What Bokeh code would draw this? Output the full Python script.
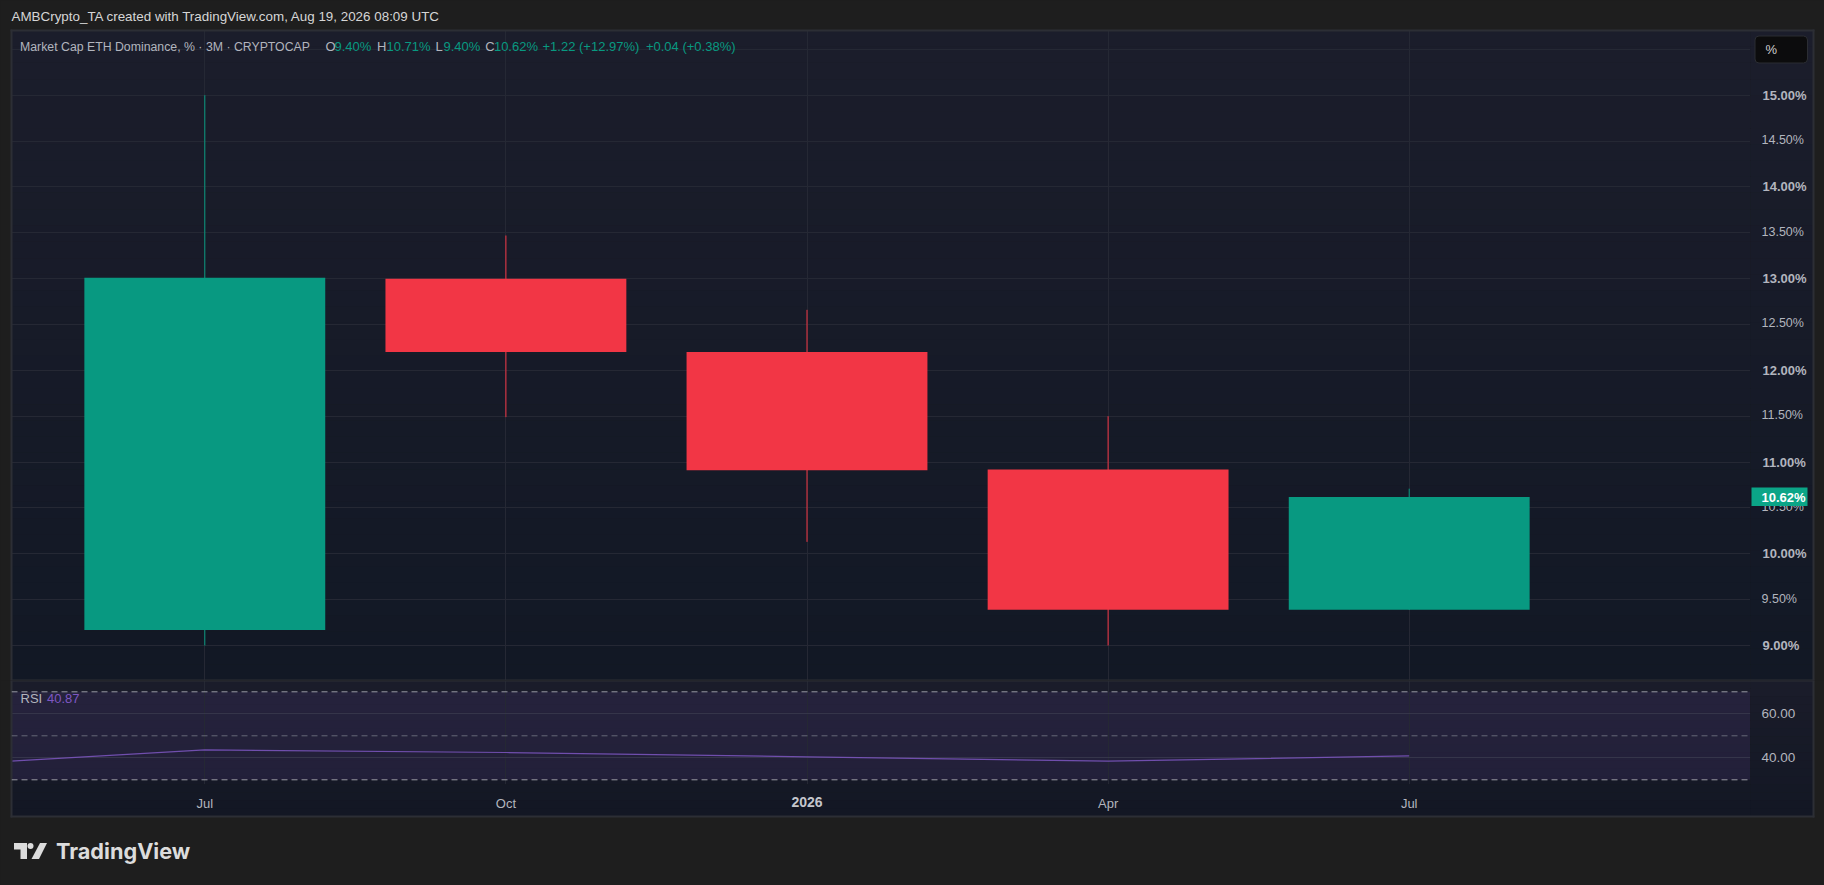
from bokeh.plotting import figure
from bokeh.layouts import column
from bokeh.core.properties import value
from bokeh.models import Range1d, LinearAxis, FixedTicker, Grid, Span, PrintfTickFormatter, ColumnDataSource
from bokeh.embed import file_html
from bokeh.resources import INLINE

# ---- data ----
OPENS = [9.17, 13.00, 12.20, 10.92, 9.39]
HIGHS = [15.00, 13.47, 12.66, 11.50, 10.71]
LOWS = [9.00, 11.49, 10.13, 9.00, 9.39]
CLOSES = [13.01, 12.20, 10.91, 9.39, 10.62]
BAR_X = [0, 1, 2, 3, 4]
X_TICKS = [0, 1, 3, 4]
X_LABELS = {0: "Jul", 1: "Oct", 3: "Apr", 4: "Jul"}
BOLD_X_TICK = 2
BOLD_X_LABEL = "2026"
PRICE_MAJOR = [9, 10, 11, 12, 13, 14, 15]
PRICE_MINOR = [9.5, 10.5, 11.5, 12.5, 13.5, 14.5]
PRICE_GRID = [9, 9.5, 10, 10.5, 11, 11.5, 12, 12.5, 13, 13.5, 14, 14.5, 15, 15.5]
RSI_X = [-1, 0, 1, 2, 3, 4]
RSI_Y = [35.7, 43.6, 42.4, 40.45, 38.45, 40.87]
RSI_TICKS = [40, 60]
RSI_LEVELS = [70, 50, 30]
LAST_PRICE = 10.62

# ---- style ----
PAGE = "#1e1e1e"
GREEN = "#089981"
RED = "#f23645"
GRAY = "#b2b5be"
PURPLE = "#7e57c2"
FRAME = "#2c2e35"
GRID = "#252834"
SANS = "Liberation Sans"
WIDTH, HEIGHT = 1824, 885

# page pixel geometry of the chart
PANE_L, PANE_R, PLOT_R = 11, 1813, 1750
TOP, SEP, TIME_TOP, BOT = 30, 680, 784, 816
Y15, Y9 = 94.7, 645.0
PX_PER_PCT = (Y9 - Y15) / 6
SPACING = 301.1
X0 = 204.3
x_range = Range1d((PANE_L - X0) / SPACING, (PLOT_R - X0) / SPACING)
price_range = Range1d(9 - (SEP - Y9) / PX_PER_PCT, 9 + (Y9 - TOP) / PX_PER_PCT)
rsi_range = Range1d(30 - (TIME_TOP - 779.3) / 2.2, 70 + (691.3 - SEP) / 2.2)


def fx(px):
    return (px - X0) / SPACING


def fy1(py):
    return 9 + (Y9 - py) / PX_PER_PCT


def fy2(py):
    return 30 + (779.3 - py) / 2.2


def mix(a, b, t):
    return "#" + "".join(f"{round(a[i] + (b[i] - a[i]) * t):02x}" for i in range(3))


def gradient(p, fy, l, r, y0, y1, c0, c1, n, level, n0=0, n1=None):
    L, R, T, B, C = [], [], [], [], []
    for i in range(n0, n if n1 is None else n1):
        T.append(fy(round(y0 + (y1 - y0) * i / n)))
        B.append(fy(round(y0 + (y1 - y0) * (i + 1) / n)))
        L.append(fx(l))
        R.append(fx(r))
        C.append(mix(c0, c1, i / max(n - 1, 1)))
    p.quad(left=L, right=R, top=T, bottom=B, fill_color=C, line_color=C, line_width=0.5, level=level)


def box(p, fy, l, r, t, b, color, level="guide", radius=0, line=None):
    p.quad(left=[fx(l)], right=[fx(r)], top=[fy(t)], bottom=[fy(b)], fill_color=color,
           line_color=line or color, line_width=1 if line else 0, level=level, border_radius=radius)


def txt(p, fy, x, y, s, color=GRAY, size=13, font=SANS, style="normal", align="left", level="guide"):
    p.text(x=[fx(x)], y=[fy(y)], text=[s], text_color=color, text_font_size=f"{size}px", text_font=value(font),
           text_font_style=style, text_align=align, text_baseline="middle", level=level)


def base(h, yr, top, bottom):
    p = figure(width=WIDTH, height=h, x_range=x_range, y_range=yr, x_axis_location=None, y_axis_location=None,
               tools="", toolbar_location=None, output_backend="svg", min_border_left=PANE_L,
               min_border_right=WIDTH - PLOT_R, min_border_top=top, min_border_bottom=bottom,
               background_fill_color=PAGE, border_fill_color=PAGE, outline_line_color=None)
    p.grid.visible = False
    p.add_layout(Grid(dimension=0, ticker=FixedTicker(ticks=BAR_X), grid_line_color=GRID, level="underlay"))
    return p


# ---- price pane ----
p1 = base(SEP, price_range, TOP, 0)
C0, C1 = (27, 29, 43), (18, 24, 37)
gradient(p1, fy1, PANE_L, PLOT_R, TOP, SEP, C0, C1, 40, "image")
gradient(p1, fy1, PLOT_R, PANE_R, TOP, SEP, C0, C1, 40, "guide")
p1.add_layout(Grid(dimension=1, ticker=FixedTicker(ticks=PRICE_GRID), grid_line_color=GRID, level="underlay"))

colors = [GREEN if c >= o else RED for o, c in zip(OPENS, CLOSES)]
src = ColumnDataSource(dict(x=BAR_X, o=OPENS, h=HIGHS, l=LOWS, c=CLOSES, color=colors))
p1.segment("x", "h", "x", "l", source=src, line_color="color", line_width=1)
p1.vbar(x="x", width=0.8, top="o", bottom="c", source=src, fill_color="color", line_color=None)

yax = LinearAxis(ticker=FixedTicker(ticks=PRICE_MAJOR), formatter=PrintfTickFormatter(format="%.2f%%"),
                 axis_line_color=None, major_tick_line_color=None, minor_tick_line_color=None,
                 major_label_standoff=6, major_label_text_color=GRAY, major_label_text_font=SANS,
                 major_label_text_font_size="13px", major_label_text_font_style="bold", level="annotation")
p1.add_layout(yax, "right")
for v in PRICE_MINOR:
    p1.text(x=[fx(1761)], y=[v + 1 / PX_PER_PCT], text=[f"{v:.2f}%"], text_color=GRAY, text_font_size="12.5px",
            text_font=value(SANS), text_baseline="middle", level="annotation")

# frame, top
box(p1, fy1, PANE_L - 1, PANE_R + 1, TOP - 1, TOP + 1, FRAME)
box(p1, fy1, PANE_L - 1, PANE_L + 1, TOP - 1, SEP, FRAME)
box(p1, fy1, PANE_R - 1, PANE_R + 1, TOP - 1, SEP, FRAME)

# header texts
txt(p1, fy1, 11, 16.3, "AMBCrypto_TA created with TradingView.com, Aug 19, 2026 08:09 UTC", color="#d6d6d6", size=13.4)
HY = 46.3
txt(p1, fy1, 19.5, HY, "Market Cap ETH Dominance, % \u00b7 3M \u00b7 CRYPTOCAP", size=12.3)
for x, s, c in [(325, "O", GRAY), (334, "9.40%", GREEN), (376.5, "H", GRAY), (386, "10.71%", GREEN),
                (435, "L", GRAY), (443, "9.40%", GREEN), (484.7, "C", GRAY), (493.4, "10.62%", GREEN),
                (542, "+1.22 (+12.97%)", GREEN), (645.4, "+0.04 (+0.38%)", GREEN)]:
    txt(p1, fy1, x, HY, s, color=c, size=13)

# % button
box(p1, fy1, 1754.5, 1807, 35.5, 62.5, "#0c0c0d", level="overlay", radius=4, line="#2b2d33")
txt(p1, fy1, 1765, 49, "%", color="#d0d0d0", size=13, level="overlay")

# last price tag
box(p1, fy1, 1751, 1807, 487, 505.5, "#0ba587", level="overlay")
txt(p1, fy1, 1761, 496.5, f"{LAST_PRICE:.2f}%", color="#ffffff", size=13, style="bold", level="overlay")

# ---- RSI pane ----
p2 = base(HEIGHT - SEP, rsi_range, 0, HEIGHT - TIME_TOP)
C2, C3 = (26, 28, 42), (19, 23, 36)
gradient(p2, fy2, PANE_L, PLOT_R, SEP, BOT, C2, C3, 17, "image", 0, 14)
gradient(p2, fy2, PLOT_R, PANE_R, SEP, BOT, C2, C3, 17, "guide")
gradient(p2, fy2, PANE_L, PLOT_R, SEP, BOT, C2, C3, 17, "guide", 13)
p2.add_layout(Grid(dimension=1, ticker=FixedTicker(ticks=RSI_TICKS), grid_line_color="#35354a", level="underlay"))
p2.quad(left=[x_range.start], right=[x_range.end], top=[RSI_LEVELS[0]], bottom=[RSI_LEVELS[2]],
        fill_color=PURPLE, fill_alpha=0.13, line_color=None, level="underlay")
for lv in RSI_LEVELS:
    p2.add_layout(Span(location=lv, dimension="width", line_color="#a4a6ae" if lv != 50 else "#787b86",
                       line_width=1, line_dash="6 4", line_alpha=0.9 if lv != 50 else 0.8))
p2.line(RSI_X, RSI_Y, line_color=PURPLE, line_width=1.2, line_alpha=0.85)

p2.add_layout(LinearAxis(ticker=FixedTicker(ticks=RSI_TICKS), formatter=PrintfTickFormatter(format="%.2f"),
                         axis_line_color=None, major_tick_line_color=None, minor_tick_line_color=None,
                         major_label_standoff=5, major_label_text_color=GRAY, major_label_text_font=SANS,
                         major_label_text_font_size="13.5px", level="annotation"), "right")
p2.add_layout(LinearAxis(ticker=FixedTicker(ticks=X_TICKS), major_label_overrides=X_LABELS,
                         axis_line_color=None, major_tick_line_color=None, minor_tick_line_color=None,
                         major_label_standoff=5, major_label_text_color=GRAY, major_label_text_font=SANS,
                         major_label_text_font_size="13px", level="annotation"), "below")
p2.text(x=[BOLD_X_TICK], y=[fy2(801)], text=[BOLD_X_LABEL], text_color="#c4c6cd", text_font=value(SANS),
        text_font_size="14px", text_font_style="bold", text_align="center", text_baseline="middle", level="annotation")

txt(p2, fy2, 20, 698, "RSI", size=13, level="annotation")
txt(p2, fy2, 46.5, 698, f"{RSI_Y[-1]:.2f}", color=PURPLE, size=13, level="annotation")

# frame: separator, sides, bottom
box(p2, fy2, PANE_L - 1, PANE_R + 1, SEP, SEP + 1, FRAME)
box(p2, fy2, PANE_L - 1, PANE_L + 1, SEP, BOT + 1, FRAME)
box(p2, fy2, PANE_R - 1, PANE_R + 1, SEP, BOT + 1, FRAME)
box(p2, fy2, PANE_L - 1, PANE_R + 1, BOT - 1, BOT + 1, FRAME)
box(p1, fy1, PANE_L - 1, PANE_R + 1, SEP - 1, SEP, FRAME)

# TradingView logo
LOGO = "#dcdcdc"
box(p2, fy2, 13.5, 26.5, 842.5, 849, LOGO)
box(p2, fy2, 20, 26.5, 842.5, 858.5, LOGO)
p2.patch(x=[fx(v) for v in (39.5, 46.5, 38.5, 31)], y=[fy2(v) for v in (842.5, 842.5, 858.5, 858.5)],
         fill_color=LOGO, line_color=None, level="guide")
box(p2, fy2, 27, 33, 842.5, 848.5, LOGO, radius=3)
txt(p2, fy2, 55.5, 850, "TradingView", color=LOGO, size=21.7, font="Inter", style="bold")

layout = column(p1, p2, spacing=0)
html = file_html(layout, INLINE).replace("<body>", f'<body style="background:{PAGE}">')
open("out.html", "w").write(html)
